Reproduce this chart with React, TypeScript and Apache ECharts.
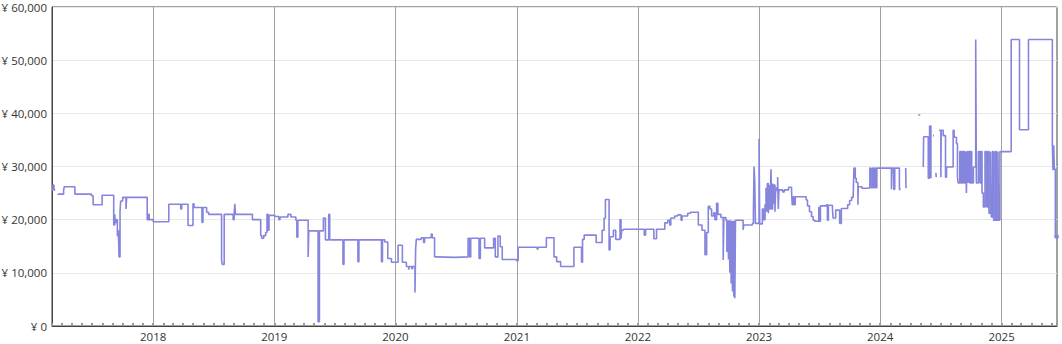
import React, { useEffect, useRef } from "react";
import * as echarts from "echarts";

type Pt = [string, number | null];

const axisStart = "2017-03-02";
const axisEnd = "2025-06-17";
const yTicks = [0, 10000, 20000, 30000, 40000, 50000, 60000];

const prices2017: Pt[] = [
  ["2017-03-02", 25600], ["2017-03-05", 26500], ["2017-03-08", 25600], ["2017-03-12", 25600],
  ["2017-03-13", null], ["2017-03-19", 24800], ["2017-04-06", 25500], ["2017-04-08", 26200],
  ["2017-05-10", 24800], ["2017-06-29", 24500], ["2017-07-04", 22800], ["2017-07-31", 24600],
  ["2017-09-04", 19000], ["2017-09-07", 21000], ["2017-09-09", 19500], ["2017-09-12", 20000],
  ["2017-09-15", 17000], ["2017-09-18", 18000], ["2017-09-20", 13000], ["2017-09-23", 21500],
  ["2017-09-25", 23500], ["2017-10-01", 24200], ["2017-10-11", 22000], ["2017-10-13", 24200],
  ["2017-12-14", 20000], ["2017-12-17", 21000], ["2017-12-20", 20000],
];

const prices2018: Pt[] = [
  ["2018-01-01", 19600], ["2018-02-17", 22900], ["2018-03-25", 22000], ["2018-03-28", 22900],
  ["2018-04-16", 18900], ["2018-05-01", 23000], ["2018-05-04", 22300], ["2018-05-28", 19500],
  ["2018-05-31", 22300], ["2018-06-11", 21400], ["2018-06-17", 21000], ["2018-07-26", 12500],
  ["2018-07-28", 11600], ["2018-08-03", 21000], ["2018-08-30", 20000], ["2018-09-02", 21000],
  ["2018-09-04", 23000], ["2018-09-06", 21000], ["2018-10-27", 20000], ["2018-11-21", 17000],
  ["2018-11-24", 16500], ["2018-11-30", 17000], ["2018-12-06", 17600], ["2018-12-10", 21000],
  ["2018-12-13", 18000], ["2018-12-16", 20800],
];

const prices2019: Pt[] = [
  ["2019-01-03", 20600], ["2019-01-15", 20000], ["2019-01-18", 20500], ["2019-02-11", 21000],
  ["2019-02-20", 20500], ["2019-03-07", 19900], ["2019-03-10", 16700], ["2019-03-13", 19900],
  ["2019-04-13", 13000], ["2019-04-15", 17900], ["2019-05-13", 800], ["2019-05-17", 17900],
  ["2019-05-29", 20300], ["2019-06-04", 16200], ["2019-06-14", 21000], ["2019-06-17", 16200],
  ["2019-07-27", 11600], ["2019-07-30", 16200], ["2019-09-10", 12100], ["2019-09-13", 16200],
  ["2019-11-20", 12100], ["2019-11-23", 16200], ["2019-11-30", 15800], ["2019-12-09", 12700],
  ["2019-12-20", 12000],
];

const prices2020: Pt[] = [
  ["2020-01-09", 15200], ["2020-01-22", 12000], ["2020-02-03", 11200], ["2020-02-10", 10600],
  ["2020-02-12", 11200], ["2020-02-19", 10800], ["2020-02-22", 11200], ["2020-02-29", 6300],
  ["2020-03-02", 14500], ["2020-03-04", 16300], ["2020-03-19", 16600], ["2020-03-26", 15700],
  ["2020-03-29", 16600], ["2020-04-18", 17300], ["2020-04-21", 16600], ["2020-04-28", 13000],
  ["2020-05-05", 12900], ["2020-06-28", 13000], ["2020-08-07", 16500], ["2020-08-12", 13000],
  ["2020-08-15", 16500], ["2020-09-09", 12700], ["2020-09-13", 16500], ["2020-09-26", 14700],
  ["2020-10-23", 16500], ["2020-10-28", 13000], ["2020-11-05", 16900], ["2020-11-12", 14900],
  ["2020-11-18", 12500], ["2020-12-31", 12300],
];

const prices2021: Pt[] = [
  ["2021-01-05", 14800], ["2021-03-03", 14500], ["2021-03-06", 14800], ["2021-03-31", 16600],
  ["2021-04-23", 13000], ["2021-05-01", 12100], ["2021-05-13", 11200], ["2021-06-22", 14800],
  ["2021-07-15", 12000], ["2021-07-18", 16300], ["2021-07-23", 17100], ["2021-08-28", 15700],
  ["2021-09-15", 18000], ["2021-09-21", 20300], ["2021-09-25", 23800], ["2021-10-06", 14300],
  ["2021-10-09", 16800], ["2021-10-19", 18000], ["2021-10-26", 16300], ["2021-11-08", 20000],
  ["2021-11-11", 16400], ["2021-11-13", 18000], ["2021-11-18", 18200],
];

const prices2022: Pt[] = [
  ["2022-01-20", 17100], ["2022-01-24", 18200], ["2022-02-18", 16400], ["2022-02-26", 18200],
  ["2022-03-23", 19400], ["2022-04-01", 19900], ["2022-04-07", 19000], ["2022-04-10", 20300],
  ["2022-04-22", 20700], ["2022-05-01", 20900], ["2022-05-11", 19900], ["2022-05-14", 20700],
  ["2022-05-31", 21200], ["2022-06-09", 21400], ["2022-07-02", 19000], ["2022-07-13", 18000],
  ["2022-07-22", 13400], ["2022-07-27", 17600], ["2022-08-01", 22500], ["2022-08-06", 22000],
  ["2022-08-11", 20700], ["2022-08-17", 21300], ["2022-08-21", 20000], ["2022-08-26", 23100],
  ["2022-08-30", 21000], ["2022-09-08", 20400], ["2022-09-15", 12400], ["2022-09-17", 20400],
  ["2022-09-23", 19900], ["2022-09-26", 14000], ["2022-09-29", 19900], ["2022-10-01", 12500],
  ["2022-10-03", 19900], ["2022-10-05", 10000], ["2022-10-07", 19900], ["2022-10-09", 8000],
  ["2022-10-11", 19800], ["2022-10-13", 6500], ["2022-10-15", 19800], ["2022-10-17", 5500],
  ["2022-10-19", 19800], ["2022-10-20", 5200], ["2022-10-22", 19900], ["2022-11-14", 18100],
  ["2022-11-16", 19000], ["2022-12-12", 19300], ["2022-12-15", 21500], ["2022-12-17", 30000],
  ["2022-12-19", 27200], ["2022-12-21", 19300],
];

const prices2023: Pt[] = [
  ["2023-01-01", 35200], ["2023-01-03", 19200], ["2023-01-11", 22000], ["2023-01-15", 20000],
  ["2023-01-19", 22800], ["2023-01-22", 26000], ["2023-01-24", 21500], ["2023-01-26", 26800],
  ["2023-01-29", 21200], ["2023-01-31", 26500], ["2023-02-02", 22000], ["2023-02-05", 27000],
  ["2023-02-06", 29500], ["2023-02-08", 22000], ["2023-02-11", 26800], ["2023-02-13", 23000],
  ["2023-02-15", 26500], ["2023-02-18", 21500], ["2023-02-20", 25500], ["2023-02-23", 26000],
  ["2023-02-26", 28000], ["2023-02-28", 22000], ["2023-03-02", 25600], ["2023-03-13", 25200],
  ["2023-03-18", 25600], ["2023-03-31", 26100], ["2023-04-09", 25200], ["2023-04-11", 22800],
  ["2023-04-14", 24300], ["2023-04-17", 22800], ["2023-04-20", 24300], ["2023-05-23", 23700],
  ["2023-05-27", 22600], ["2023-06-02", 21500], ["2023-06-08", 20600], ["2023-06-13", 19900],
  ["2023-06-18", 19700], ["2023-06-30", 22400], ["2023-07-02", 19700], ["2023-07-05", 22600],
  ["2023-07-23", 22800], ["2023-07-26", 19900], ["2023-07-29", 22700], ["2023-08-10", 22300],
  ["2023-08-12", 20300], ["2023-08-20", 21800], ["2023-09-01", 19300], ["2023-09-06", 22100],
  ["2023-09-25", 22800], ["2023-10-01", 23600], ["2023-10-07", 24200], ["2023-10-12", 25000],
  ["2023-10-14", 29700], ["2023-10-18", 27800], ["2023-10-21", 27000], ["2023-10-26", 22800],
  ["2023-10-27", 26200], ["2023-11-07", 25900], ["2023-11-25", 26000], ["2023-12-01", 29700],
  ["2023-12-04", 26000], ["2023-12-09", 29700], ["2023-12-12", 26000], ["2023-12-16", 29700],
  ["2023-12-19", 26000], ["2023-12-22", 29700],
];

const prices2024: Pt[] = [
  ["2024-02-04", 25700], ["2024-02-06", 29700], ["2024-02-11", 25700], ["2024-02-14", 29700],
  ["2024-02-28", 25700], ["2024-03-03", 25700], ["2024-03-04", null], ["2024-03-18", 29700],
  ["2024-03-19", 25900], ["2024-03-20", null], ["2024-04-25", 39700], ["2024-05-01", 39700],
  ["2024-05-02", null], ["2024-05-10", 29900], ["2024-05-11", 35600], ["2024-05-25", 27800],
  ["2024-05-29", 37600], ["2024-06-02", 27800], ["2024-06-03", null], ["2024-06-08", 35800],
  ["2024-06-10", 35800], ["2024-06-11", null], ["2024-06-17", 28800], ["2024-06-18", 28000],
  ["2024-06-19", null], ["2024-06-27", 36800], ["2024-07-02", 28000], ["2024-07-03", 36800],
  ["2024-07-09", 35800], ["2024-07-16", 28000], ["2024-07-19", 29900], ["2024-08-08", 36800],
  ["2024-08-11", 35500], ["2024-08-18", 34300], ["2024-08-21", 28000], ["2024-08-23", 26900],
  ["2024-08-28", 32800], ["2024-08-31", 26900], ["2024-09-03", 32800], ["2024-09-06", 26900],
  ["2024-09-09", 32800], ["2024-09-12", 26900], ["2024-09-15", 32800], ["2024-09-17", 25000],
  ["2024-09-19", 32800], ["2024-09-22", 26900], ["2024-09-24", 32800], ["2024-09-27", 26900],
  ["2024-09-30", 32800], ["2024-10-03", 26900], ["2024-10-08", 29900], ["2024-10-15", 53900],
  ["2024-10-17", 26900], ["2024-10-23", 32800], ["2024-10-28", 26900], ["2024-10-31", 32800],
  ["2024-11-03", 25000], ["2024-11-07", 22400], ["2024-11-12", 32800], ["2024-11-17", 22400],
  ["2024-11-21", 32800], ["2024-11-24", 21200], ["2024-11-29", 32800], ["2024-12-01", 20500],
  ["2024-12-05", 32800], ["2024-12-08", 19900], ["2024-12-13", 32800], ["2024-12-16", 19900],
  ["2024-12-21", 32800], ["2024-12-23", 19900], ["2024-12-27", 32800],
];

const prices2025: Pt[] = [
  ["2025-01-01", 32800], ["2025-01-30", 53900], ["2025-02-24", 36900], ["2025-03-23", 53900],
  ["2025-06-03", 34000], ["2025-06-05", 29300], ["2025-06-07", 34000], ["2025-06-09", 29500],
  ["2025-06-12", 16800], ["2025-06-16", 16800],
];

const DAY = 24 * 3600 * 1000;
const toTs = (s: string) =>
  Date.UTC(+s.slice(0, 4), +s.slice(5, 7) - 1, +s.slice(8, 10));

const allPrices: Pt[] = [
  ...prices2017, ...prices2018, ...prices2019, ...prices2020,
  ...prices2021, ...prices2022, ...prices2023, ...prices2024, ...prices2025,
];

const FONT = "'Open Sans', sans-serif";

export default function App() {
  const ref = useRef<HTMLDivElement>(null);
  useEffect(() => {
    document.body.style.margin = "0";
    if (!ref.current) return;
    const chart = echarts.init(ref.current, null, { renderer: "svg" });
    const lineData = allPrices.map(([d, v]) => [toTs(d), v === null ? "-" : v]);
    const last = allPrices[allPrices.length - 1];
    const minTs = toTs(axisStart);
    const maxTs = toTs(axisEnd);
    chart.setOption({
      animation: false,
      useUTC: true,
      grid: {
        left: 52, right: 5, top: 7, bottom: 18,
        containLabel: false,
        outerBoundsMode: "none",
        show: true, borderColor: "#444", borderWidth: 1,
      },
      xAxis: [
        {
          type: "time",
          min: minTs,
          max: maxTs,
          minInterval: 365 * DAY,
          maxInterval: 366 * DAY,
          axisLine: { show: true, lineStyle: { color: "#444", width: 1 } },
          axisTick: { show: false },
          axisLabel: {
            color: "#333",
            fontFamily: FONT,
            fontSize: 11.5,
            margin: 4,
            formatter: (v: number) => String(new Date(v).getUTCFullYear()),
          },
          splitLine: { show: true, lineStyle: { color: "#a0a0a0", width: 1 } },
        },
        {
          type: "time",
          min: minTs,
          max: maxTs,
          position: "bottom",
          minInterval: 28 * DAY,
          maxInterval: 31 * DAY,
          axisLine: { show: false },
          axisLabel: { show: false },
          splitLine: { show: false },
          axisTick: {
            show: true, inside: true, length: 3,
            lineStyle: { color: "#999", width: 2 },
          },
        },
      ],
      yAxis: {
        type: "value",
        min: yTicks[0],
        max: yTicks[yTicks.length - 1],
        interval: yTicks[1] - yTicks[0],
        axisLine: { show: true, lineStyle: { color: "#444", width: 1 } },
        axisTick: { show: false },
        axisLabel: {
          color: "#333",
          fontFamily: FONT,
          fontSize: 11.5,
          margin: 5,
          formatter: (v: number) => "¥ " + v.toLocaleString("en-US"),
        },
        splitLine: { show: true, lineStyle: { color: "#e8e8e8", width: 1 } },
      },
      series: [
        {
          type: "line",
          step: "end",
          data: lineData,
          showSymbol: false,
          connectNulls: false,
          lineStyle: { color: "#8585dd", width: 1.6 },
          itemStyle: { color: "#8585dd" },
        },
        {
          type: "scatter",
          data: [[toTs(last[0]), last[1]]],
          symbol: "circle",
          symbolSize: 5,
          itemStyle: { color: "#8585dd" },
        },
      ],
    });
    return () => chart.dispose();
  }, []);
  return <div ref={ref} style={{ width: 1062, height: 344 }} />;
}
